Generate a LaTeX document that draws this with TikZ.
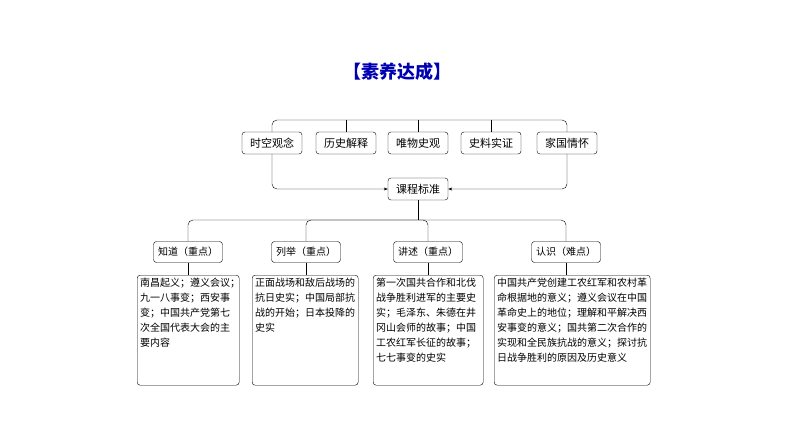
\documentclass[tikz,border=0pt]{standalone}
\usepackage{fontspec}
\setmainfont{Noto Sans CJK SC}
\usetikzlibrary{arrows.meta}

\newcommand{\topfill}[2]{\parbox[t][104pt][t]{#1}{#2}}

\begin{document}
\begin{tikzpicture}[x=1pt, y=-1pt,
  box/.style={draw, rounded corners=3pt, font=\fontsize{10}{12}\selectfont, inner sep=2pt},
  topbox/.style={box, minimum width=60pt, minimum height=22pt, font=\fontsize{11}{13}\selectfont},
  keybox/.style={box, minimum height=21pt, minimum width=69pt},
  textbox/.style={draw, rounded corners=3pt, anchor=north west, align=left, inner sep=3pt,
    font=\fontsize{10}{15}\selectfont},
  line/.style={rounded corners=5pt}]
  \useasboundingbox (0,0) rectangle (794,446);

  \node[text=blue!70!black, font=\fontsize{18}{20}\bfseries] (title) at (397,72) {【素养达成】};

  % top row
  \node[topbox] (t1) at (272,143) {时空观念};
  \node[topbox] (t2) at (346,143) {历史解释};
  \node[topbox] (t3) at (418,143) {唯物史观};
  \node[topbox] (t4) at (491,143) {史料实证};
  \node[topbox] (t5) at (567,143) {家国情怀};
  \node[topbox] (std) at (418,189) {课程标准};

  \draw[line] (t1.north) |- (t5.north |- 0,120) -- (t5.north);
  \draw (t2.north) -- (t2.north |- 0,120);
  \draw (t3.north) -- (t3.north |- 0,120);
  \draw (t4.north) -- (t4.north |- 0,120);
  \draw[line, -{Stealth[length=4pt]}] (t1.south) |- (std.west);
  \draw[line, -{Stealth[length=4pt]}] (t5.south) |- (std.east);

  % second row
  \node[keybox] (k1) at (188,252) {知道（重点）};
  \node[keybox] (k2) at (306,252) {列举（重点）};
  \node[keybox] (k3) at (428,252) {讲述（重点）};
  \node[keybox] (k4) at (566,252) {认识（难点）};

  \draw (std.south) -- (std.south |- 0,220);
  \draw[line] (k1.north) |- (k4.north |- 0,220) -- (k4.north);
  \draw[line] (k2.north) |- (k3.north |- 0,220) -- (k3.north);

  % text boxes
  \node[textbox] (d1) at (137,275) {\topfill{96pt}{南昌起义；遵义会议；\\九一八事变；西安事\\变；中国共产党第七\\次全国代表大会的主\\要内容}};
  \node[textbox] (d2) at (252,275) {\topfill{100pt}{正面战场和敌后战场的\\抗日史实；中国局部抗\\战的开始；日本投降的\\史实}};
  \node[textbox] (d3) at (373,275) {\topfill{104pt}{第一次国共合作和北伐\\战争胜利进军的主要史\\实；毛泽东、朱德在井\\冈山会师的故事；中国\\工农红军长征的故事；\\七七事变的史实}};
  \node[textbox] (d4) at (494,275) {\topfill{150pt}{中国共产党创建工农红军和农村革\\命根据地的意义；遵义会议在中国\\革命史上的地位；理解和平解决西\\安事变的意义；国共第二次合作的\\实现和全民族抗战的意义；探讨抗\\日战争胜利的原因及历史意义}};

  \draw (k1.south) -- (k1.south |- d1.north);
  \draw (k2.south) -- (k2.south |- d2.north);
  \draw (k3.south) -- (k3.south |- d3.north);
  \draw (k4.south) -- (k4.south |- d4.north);
\end{tikzpicture}
\end{document}
